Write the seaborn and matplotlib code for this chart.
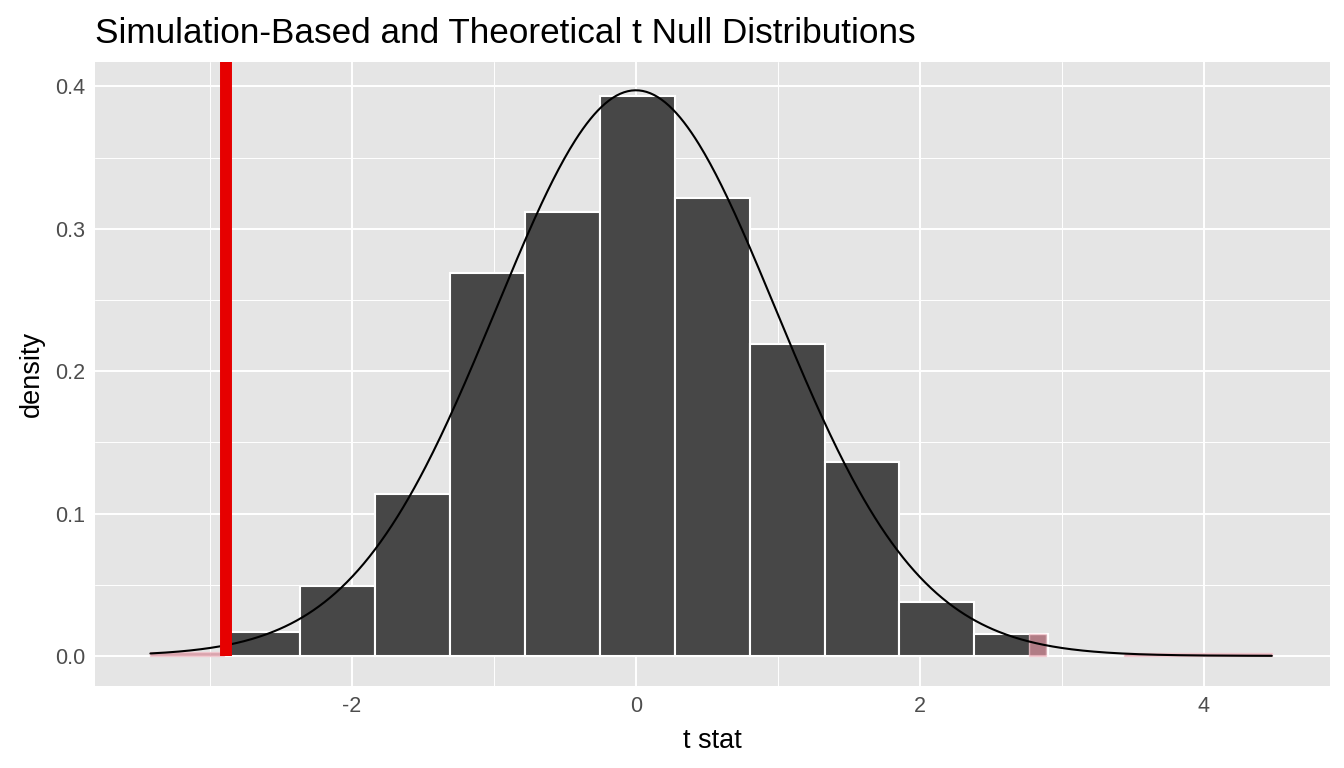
import math
import numpy as np
import pandas as pd
import matplotlib
matplotlib.use("Agg")
import matplotlib.pyplot as plt
import seaborn as sns

# ---- data ----
bin_edges = [-2.89, -2.366, -1.838, -1.31, -0.782, -0.254, 0.275, 0.803, 1.331, 1.852, 2.38, 2.90]
bin_density = [0.0168, 0.049, 0.1137, 0.2688, 0.3116, 0.393, 0.3214, 0.219, 0.136, 0.0379, 0.0154]
obs_stat = -2.887
t_df = 60
curve_range = [-3.42, 4.48]
# shaded p-value pieces (left, right, height)
shade_left = [-3.42, 2.77, 3.44]
shade_right = [-2.90, 2.89, 4.48]
shade_height = [0.0028, 0.0154, 0.0022]

title = "Simulation-Based and Theoretical t Null Distributions"
xlabel = "t stat"
ylabel = "density"
x_ticks = [-2, 0, 2, 4]
y_ticks = [0.0, 0.1, 0.2, 0.3, 0.4]

sns.set_theme(style="darkgrid")
plt.rcParams['font.family'] = ['Liberation Sans', 'DejaVu Sans']

fig = plt.figure(figsize=(13.44, 7.68), dpi=100)
ax = fig.add_axes([0.0707, 0.107, 0.9896 - 0.0707, 0.919 - 0.107])
ax.set_facecolor("#e5e5e5")

ymin, ymax = -0.021, 0.417

# histogram
centers = [(a + b) / 2 for a, b in zip(bin_edges[:-1], bin_edges[1:])]
hist_df = pd.DataFrame({"t": centers, "w": bin_density})
sns.histplot(data=hist_df, x="t", weights="w", bins=bin_edges, stat="count",
             color="#474747", alpha=1, edgecolor="white", linewidth=1.5, ax=ax, zorder=3)

# theoretical t density
def t_pdf(x, df):
    c = math.gamma((df + 1) / 2) / (math.sqrt(df * math.pi) * math.gamma(df / 2))
    return c * (1 + x ** 2 / df) ** (-(df + 1) / 2)

xs = np.linspace(curve_range[0], curve_range[1], 600)
curve_df = pd.DataFrame({"x": xs, "y": [t_pdf(v, t_df) for v in xs]})

# shading
for l, r, h in zip(shade_left, shade_right, shade_height):
    ax.bar(l, h, width=r - l, align="edge", color="#d68f9b", alpha=0.75,
           edgecolor="#f4c6ce", linewidth=1.0, zorder=4)

sns.lineplot(data=curve_df, x="x", y="y", color="black", linewidth=1.5, ax=ax, zorder=5)

# observed statistic
ax.vlines(obs_stat, 0, ymax, color="#e60000", linewidth=8.6, zorder=6)

ax.set_xlim(-3.81, 4.89)
ax.set_ylim(ymin, ymax)
ax.set_xticks(x_ticks)
ax.set_xticklabels([str(v) for v in x_ticks])
ax.set_yticks(y_ticks)
ax.set_yticklabels([f"{v:.1f}" for v in y_ticks])
ax.set_xticks([-3, -1, 1, 3], minor=True)
ax.set_yticks([0.05, 0.15, 0.25, 0.35], minor=True)
ax.grid(which="major", color="white", linewidth=1.4)
ax.grid(which="minor", color="white", linewidth=0.7)
ax.set_axisbelow(True)
for s in ax.spines.values():
    s.set_visible(False)
ax.tick_params(axis="both", which="major", length=4, width=1.1, color="#333333",
               labelcolor="#4d4d4d", labelsize=15.5, pad=3)
ax.tick_params(which="minor", length=0)
ax.set_xlabel(xlabel, fontsize=19.5, color="black", labelpad=8)
ax.set_ylabel(ylabel, fontsize=19.5, color="black", labelpad=7)
fig.text(0.0707, 0.957, title, fontsize=25.3, color="black", ha="left", va="center")

fig.savefig("out.png", dpi=100)
